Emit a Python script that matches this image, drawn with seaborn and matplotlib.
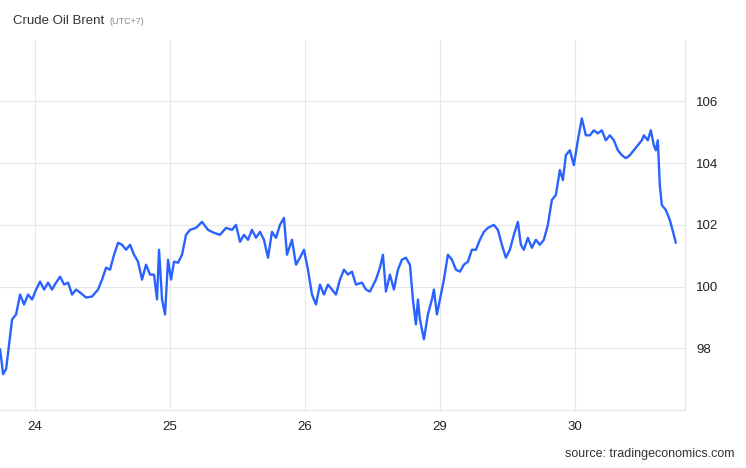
import matplotlib
matplotlib.use("Agg")
import matplotlib.pyplot as plt
import seaborn as sns
import numpy as np
import pandas as pd

day_labels = ["24", "25", "26", "29", "30"]
# sample positions (trace units) and traced price levels (trace units)
pos = [0,3,6,9,12,16,20,24,28,32,36,40,44,48,52,56,60,64,68,72,76,80,86,92,98,102,106,110,114,118,122,126,130,134,138,142,146,150,154,157,159,162,165,168,171,174,178,182,186,190,196,202,208,214,220,226,232,236,240,244,248,252,256,260,264,268,272,276,280,284,287,292,296,300,304,308,312,316,320,324,328,332,336,340,344,348,352,356,362,366,370,376,380,383,386,390,394,398,402,406,410,413,416,418,420,424,428,432,434,437,440,444,448,452,456,460,464,468,472,476,480,484,488,494,498,502,506,510,514,518,521,524,528,532,536,540,544,548,552,556,560,563,566,570,574,578,582,586,590,594,598,602,606,610,614,618,622,626,630,634,638,642,644,648,651,654,656,658,660,662,666,670,674,676]
lvl = [350,375,370,345,320,315,295,305,295,300,290,282,290,283,290,283,277,285,283,295,290,293,298,297,290,280,268,270,255,243,245,250,245,255,262,280,265,275,275,300,250,300,315,260,280,262,263,255,235,230,228,222,230,233,235,228,230,225,242,235,240,230,238,232,240,258,232,238,225,218,255,240,265,258,250,270,295,305,285,295,285,290,295,280,270,275,272,285,283,290,292,280,268,255,292,275,290,270,260,258,265,300,325,300,320,340,315,300,290,315,300,280,255,260,270,272,265,262,250,250,240,232,228,225,230,245,258,250,235,222,245,250,238,248,240,245,240,225,200,195,170,180,155,150,165,140,118,135,135,130,133,130,140,135,140,150,155,158,155,150,145,140,135,140,130,145,150,140,185,205,210,220,235,243]
time_days = [(p - 35) / 135 for p in pos]
price = [98 + (349 - y) / 31 for y in lvl]
df = pd.DataFrame({"t": time_days, "price": price})

sns.set_theme(style="white")
plt.rcParams['font.family'] = ['Liberation Sans', 'DejaVu Sans']
fig = plt.figure(figsize=(7.46, 4.68), dpi=100)
ax = fig.add_axes([0, 0.124, 0.918, 0.791])
sns.lineplot(data=df, x="t", y="price", ax=ax, color="#2962ff", lw=1.7)
ax.set_xlim(-0.26, 4.815)
ax.set_ylim(96, 108)
ax.set_xticks(range(5))
ax.set_xticklabels(day_labels)
ax.set_yticks([98, 100, 102, 104, 106])
ax.yaxis.tick_right()
ax.tick_params(axis="both", length=0, labelsize=9.5, colors="#222222", pad=8)
ax.grid(True, color="#e8e8e8", lw=0.8)
for s in ["left", "top"]:
    ax.spines[s].set_visible(False)
for s in ["right", "bottom"]:
    ax.spines[s].set_color("#e6e6e6")
    ax.spines[s].set_linewidth(0.8)
ax.set_xlabel(""); ax.set_ylabel("")
fig.text(0.018, 0.955, "Crude Oil Brent", fontsize=9.5, color="#333333", va="center")
fig.text(0.147, 0.953, "(UTC+7)", fontsize=6.5, color="#888888", va="center")
fig.text(0.985, 0.018, "source: tradingeconomics.com", fontsize=9, color="#333333", ha="right", va="bottom")
fig.savefig("out.png", dpi=100, facecolor="white")
